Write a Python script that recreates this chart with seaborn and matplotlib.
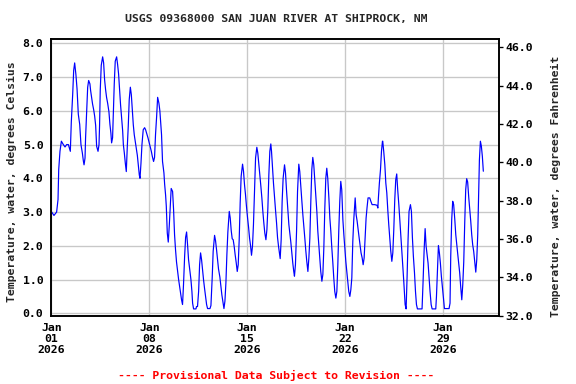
import matplotlib
matplotlib.use("Agg")
import matplotlib.pyplot as plt
import matplotlib.dates as mdates
import seaborn as sns
import pandas as pd
import numpy as np

title = "USGS 09368000 SAN JUAN RIVER AT SHIPROCK, NM"
left_label = "Temperature, water, degrees Celsius"
right_label = "Temperature, water, degrees Fahrenheit"
footer = "---- Provisional Data Subject to Revision ----"

# time in days since 2026-01-01 00:00, and water temperature (deg C)
days = [0.03, 0.19, 0.38, 0.48, 0.53, 0.62, 0.72, 0.86, 0.98, 1.10, 1.22, 1.29, 1.36, 1.43, 1.53, 1.60, 1.67, 1.76, 1.84, 1.93,
        2.03, 2.12, 2.22, 2.29, 2.34, 2.41, 2.45, 2.53, 2.60, 2.67, 2.76, 2.81, 2.88, 2.95, 3.03, 3.10, 3.17, 3.24, 3.34, 3.41,
        3.45, 3.50, 3.57, 3.67, 3.74, 3.81, 3.88, 3.95, 4.03, 4.12, 4.19, 4.26, 4.31, 4.38, 4.43, 4.50, 4.57, 4.67, 4.74, 4.81,
        4.88, 4.95, 5.03, 5.10, 5.15, 5.22, 5.29, 5.36, 5.43, 5.50, 5.57, 5.65, 5.72, 5.79, 5.86, 5.93, 6.00, 6.07, 6.15, 6.22,
        6.29, 6.34, 6.41, 6.48, 6.57, 6.67, 6.74, 6.81, 6.91, 6.98, 7.05, 7.15, 7.22, 7.31, 7.38, 7.45, 7.53, 7.60, 7.69, 7.76,
        7.88, 7.95, 8.05, 8.10, 8.17, 8.22, 8.29, 8.36, 8.43, 8.50, 8.57, 8.67, 8.74, 8.81, 8.88, 8.95, 9.03, 9.10, 9.17, 9.24,
        9.31, 9.38, 9.45, 9.53, 9.60, 9.67, 9.74, 9.81, 9.91, 9.98, 10.05, 10.10, 10.17, 10.34, 10.38, 10.45, 10.53, 10.60, 10.67, 10.74,
        10.81, 10.88, 10.95, 11.03, 11.10, 11.17, 11.34, 11.41, 11.50, 11.57, 11.67, 11.74, 11.81, 11.88, 11.95, 12.05, 12.12, 12.19, 12.26, 12.34,
        12.41, 12.48, 12.55, 12.62, 12.72, 12.79, 12.86, 12.93, 13.00, 13.07, 13.14, 13.22, 13.29, 13.36, 13.43, 13.50, 13.57, 13.67, 13.74, 13.81,
        13.88, 13.95, 14.03, 14.10, 14.17, 14.24, 14.31, 14.38, 14.45, 14.53, 14.60, 14.69, 14.76, 14.84, 14.91, 14.98, 15.05, 15.12, 15.19, 15.26,
        15.34, 15.41, 15.48, 15.55, 15.62, 15.69, 15.74, 15.81, 15.88, 15.95, 16.03, 16.10, 16.17, 16.24, 16.31, 16.36, 16.43, 16.50, 16.57, 16.67,
        16.74, 16.81, 16.91, 16.98, 17.05, 17.12, 17.19, 17.26, 17.33, 17.38, 17.45, 17.53, 17.60, 17.69, 17.76, 17.83, 17.91, 17.98, 18.05, 18.12,
        18.19, 18.26, 18.34, 18.41, 18.48, 18.55, 18.62, 18.69, 18.76, 18.84, 18.91, 18.98, 19.05, 19.12, 19.19, 19.26, 19.34, 19.41, 19.48, 19.55,
        19.62, 19.69, 19.76, 19.84, 19.91, 19.98, 20.05, 20.12, 20.19, 20.26, 20.34, 20.41, 20.48, 20.55, 20.62, 20.69, 20.76, 20.84, 20.91, 20.98,
        21.05, 21.12, 21.19, 21.26, 21.34, 21.41, 21.48, 21.55, 21.62, 21.72, 21.79, 21.86, 21.93, 22.00, 22.07, 22.14, 22.22, 22.29, 22.36, 22.43,
        22.50, 22.57, 22.64, 22.76, 22.84, 22.93, 23.12, 23.29, 23.34, 23.38, 23.45, 23.53, 23.60, 23.67, 23.69, 23.76, 23.84, 23.91, 23.98, 24.05,
        24.12, 24.19, 24.26, 24.34, 24.41, 24.48, 24.55, 24.62, 24.69, 24.76, 24.84, 24.91, 24.98, 25.05, 25.12, 25.19, 25.24, 25.29, 25.36, 25.43,
        25.50, 25.57, 25.67, 25.74, 25.81, 25.88, 25.96, 26.03, 26.10, 26.17, 26.50, 26.57, 26.65, 26.72, 26.79, 26.86, 26.93, 27.00, 27.07, 27.15,
        27.22, 27.48, 27.53, 27.60, 27.67, 27.74, 27.81, 27.88, 27.96, 28.03, 28.10, 28.43, 28.50, 28.55, 28.62, 28.69, 28.76, 28.84, 28.91, 28.98,
        29.05, 29.12, 29.19, 29.26, 29.34, 29.41, 29.48, 29.55, 29.62, 29.69, 29.76, 29.84, 29.91, 29.98, 30.05, 30.12, 30.19, 30.26, 30.34, 30.41,
        30.48, 30.55, 30.60, 30.67, 30.74, 30.81, 30.88]

temp_c = [3.0, 2.9, 3.0, 3.37, 4.26, 4.8, 5.1, 5.0, 4.93, 5.0, 5.0, 4.9, 4.8, 5.67, 6.5, 7.2, 7.42, 7.07, 6.65, 5.9,
          5.6, 5.0, 4.75, 4.52, 4.4, 4.6, 5.2, 5.97, 6.7, 6.9, 6.8, 6.6, 6.4, 6.2, 6.03, 5.84, 5.57, 4.95, 4.8, 5.0,
          5.57, 6.63, 7.35, 7.6, 7.42, 6.92, 6.63, 6.4, 6.22, 5.97, 5.6, 5.34, 5.05, 5.2, 5.84, 6.8, 7.47, 7.6, 7.37, 7.09,
          6.63, 6.18, 5.79, 5.41, 5.0, 4.75, 4.45, 4.2, 4.92, 5.54, 6.33, 6.7, 6.48, 6.03, 5.59, 5.29, 5.1, 4.9, 4.68, 4.4,
          4.1, 4.0, 4.45, 5.0, 5.44, 5.5, 5.44, 5.34, 5.2, 5.08, 4.95, 4.8, 4.65, 4.5, 4.62, 5.3, 5.84, 6.4, 6.23, 6.0,
          5.29, 4.5, 4.16, 3.83, 3.5, 3.17, 2.38, 2.11, 2.58, 3.12, 3.7, 3.61, 3.07, 2.33, 1.88, 1.52, 1.24, 1.0, 0.8, 0.6,
          0.4, 0.26, 0.85, 1.69, 2.25, 2.41, 2.03, 1.59, 1.24, 1.0, 0.65, 0.3, 0.13, 0.13, 0.2, 0.2, 0.65, 1.44, 1.79, 1.59,
          1.29, 1.0, 0.75, 0.5, 0.26, 0.14, 0.14, 0.23, 1.05, 1.84, 2.31, 2.15, 1.89, 1.59, 1.32, 1.07, 0.8, 0.55, 0.36, 0.14,
          0.36, 0.9, 1.74, 2.41, 3.02, 2.82, 2.45, 2.21, 2.18, 1.99, 1.74, 1.49, 1.24, 1.44, 2.18, 3.27, 4.06, 4.42, 4.2, 3.81,
          3.52, 3.17, 2.82, 2.55, 2.23, 2.01, 1.72, 1.99, 2.63, 3.71, 4.6, 4.92, 4.75, 4.4, 4.11, 3.76, 3.42, 3.02, 2.68, 2.38,
          2.18, 2.48, 3.12, 4.11, 4.8, 5.02, 4.8, 4.31, 3.86, 3.47, 3.04, 2.68, 2.25, 1.99, 1.76, 1.62, 2.18, 3.32, 4.0, 4.4,
          4.16, 3.66, 3.04, 2.63, 2.38, 2.11, 1.79, 1.49, 1.24, 1.1, 1.44, 2.43, 3.61, 4.42, 4.2, 3.81, 3.32, 2.92, 2.58, 2.23,
          1.86, 1.54, 1.24, 1.64, 2.23, 3.32, 4.26, 4.62, 4.4, 3.91, 3.47, 3.02, 2.43, 2.03, 1.66, 1.24, 0.95, 1.15, 1.94, 3.12,
          4.0, 4.3, 4.0, 3.42, 2.82, 2.43, 1.94, 1.52, 1.05, 0.65, 0.45, 0.65, 1.44, 2.48, 3.32, 3.91, 3.66, 2.78, 2.33, 1.94,
          1.54, 1.24, 0.95, 0.65, 0.5, 0.7, 1.05, 2.13, 2.78, 3.42, 2.92, 2.73, 2.48, 2.25, 2.03, 1.79, 1.64, 1.44, 1.64, 2.25,
          2.82, 3.14, 3.42, 3.42, 3.32, 3.22, 3.22, 3.2, 3.12, 3.42, 3.86, 4.26, 4.8, 5.1, 5.1, 4.8, 4.4, 3.86, 3.57, 3.07,
          2.63, 2.25, 1.86, 1.54, 1.79, 2.48, 3.37, 3.96, 4.13, 3.66, 3.22, 2.78, 2.33, 1.89, 1.44, 0.97, 0.6, 0.26, 0.13, 1.07,
          2.18, 3.02, 3.22, 3.02, 2.25, 1.69, 1.2, 0.65, 0.26, 0.13, 0.13, 0.9, 1.89, 2.51, 1.99, 1.74, 1.49, 1.07, 0.65, 0.26,
          0.13, 0.13, 0.5, 1.29, 2.01, 1.79, 1.49, 1.1, 0.77, 0.45, 0.14, 0.14, 0.3, 1.69, 2.78, 3.32, 3.22, 2.78, 2.33, 2.03,
          1.76, 1.49, 1.2, 0.8, 0.4, 0.85, 1.52, 2.68, 3.66, 3.99, 3.89, 3.42, 3.07, 2.73, 2.33, 2.03, 1.84, 1.56, 1.22, 1.59,
          2.33, 3.57, 4.55, 5.1, 4.95, 4.65, 4.21]

tick_dates = ["2026-01-01", "2026-01-08", "2026-01-15", "2026-01-22", "2026-01-29"]
left_ticks = [0, 1, 2, 3, 4, 5, 6, 7, 8]
right_ticks = [32, 34, 36, 38, 40, 42, 44, 46]

start = pd.Timestamp("2026-01-01")
df = pd.DataFrame({"time": start + pd.to_timedelta(days, unit="D"), "temp": temp_c})

sns.set_style("white")
plt.rcParams["font.family"] = ["DejaVu Sans Mono"]
plt.rcParams["font.weight"] = "bold"

fig = plt.figure(figsize=(6, 4), dpi=96)
ax = fig.add_axes([51.3 / 576, 1 - 316 / 384, (499 - 51.3) / 576, (316 - 39.3) / 384])
fs = 8.6

sns.lineplot(data=df, x="time", y="temp", ax=ax, color="#0000ff", linewidth=0.9)

ax.set_xlim(pd.Timestamp("2026-01-01"), pd.Timestamp("2026-02-02"))
ax.set_ylim(-0.08, 8.12)
ax.set_xticks(pd.to_datetime(tick_dates))
ax.xaxis.set_major_formatter(mdates.DateFormatter("%b\n%d\n%Y"))
ax.set_yticks(left_ticks)
ax.set_yticklabels([f"{v:.1f}" for v in left_ticks])
ax.grid(True, color="#c8c8c8", linewidth=1.0)
ax.set_xlabel("")
ax.set_ylabel("")
ax.tick_params(axis="both", length=0, labelsize=fs, colors="black")
ax.tick_params(axis="y", pad=6)
ax.tick_params(axis="x", pad=5)
for lab in ax.get_xticklabels() + ax.get_yticklabels():
    lab.set_fontweight("bold")
    lab.set_linespacing(1.15)
for s in ax.spines.values():
    s.set_color("black")
    s.set_linewidth(1.2)

ax2 = ax.twinx()
ax2.set_ylim(31.98, 46.41)
ax2.set_yticks(right_ticks)
ax2.set_yticklabels([f"{v:.1f}" for v in right_ticks])
ax2.tick_params(axis="y", length=3, width=1, pad=2, labelsize=fs, colors="black")
for lab in ax2.get_yticklabels():
    lab.set_fontweight("bold")
for s in ax2.spines.values():
    s.set_color("black")
    s.set_linewidth(1.2)

fig.text(276 / 576, 1 - 19 / 384, title, ha="center", va="center", fontsize=fs, fontweight="bold")
fig.text(12 / 576, 1 - 182 / 384, left_label, rotation=90, ha="center", va="center", fontsize=fs, fontweight="bold")
fig.text(556 / 576, 1 - 186 / 384, right_label, rotation=90, ha="center", va="center", fontsize=fs, fontweight="bold")
fig.text(276 / 576, 1 - 375 / 384, footer, ha="center", va="center", fontsize=fs, fontweight="bold", color="#ff0000")

fig.savefig("out.png", dpi=96, facecolor="white")
